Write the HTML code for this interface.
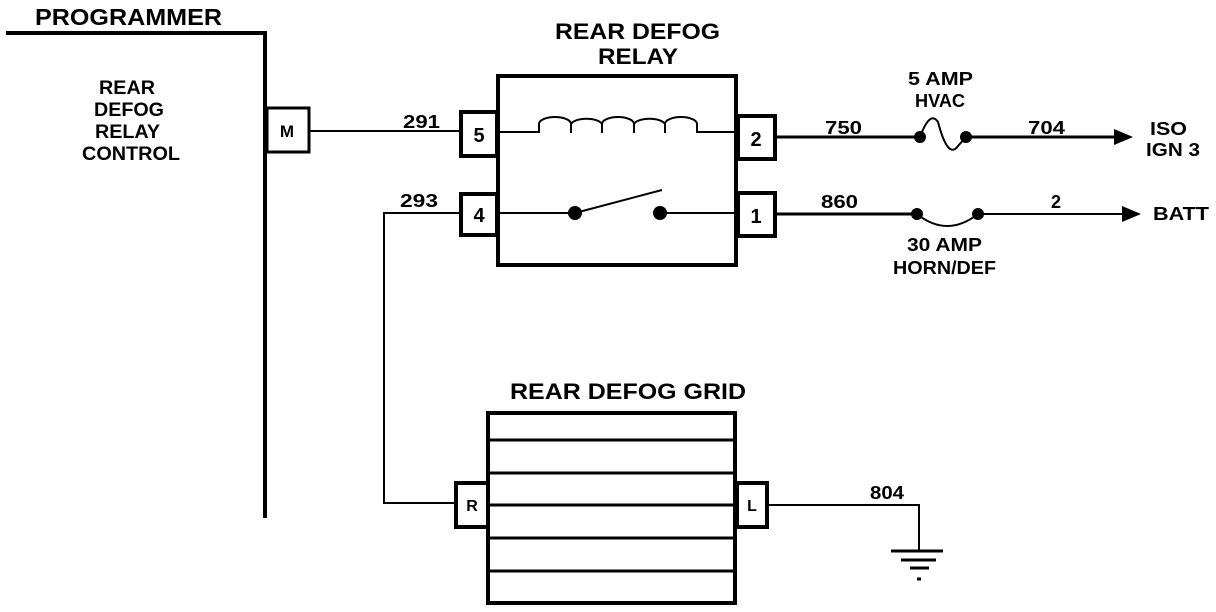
<!DOCTYPE html>
<html><head><meta charset="utf-8"><style>
html,body{margin:0;padding:0;background:#fff;}
svg{display:block}
text{font-family:"Liberation Sans",sans-serif;font-weight:bold;fill:#000}
</style></head><body>
<svg width="1216" height="612" viewBox="0 0 1216 612" xmlns="http://www.w3.org/2000/svg">
<g stroke="#000" fill="none">
<path d="M6 33 H265 V518" stroke-width="4"/>
<rect x="267" y="108" width="42" height="44" stroke-width="3" fill="#fff"/>
<line x1="309" y1="131" x2="461" y2="131" stroke-width="2"/>
<rect x="498" y="76" width="238" height="189" stroke-width="4"/>
<rect x="461" y="112" width="36" height="44" stroke-width="4" fill="#fff"/>
<rect x="461" y="194" width="36" height="41" stroke-width="4" fill="#fff"/>
<rect x="738" y="116" width="37" height="43" stroke-width="4" fill="#fff"/>
<rect x="738" y="193" width="37" height="43" stroke-width="4" fill="#fff"/>
<path d="M500 132 H539 V124 A16 7 0 0 1 571 124 V133 M571 124 A16 7 0 0 1 602 124 V133 M602 124 A16 7 0 0 1 634 124 V133 M634 124 A16 7 0 0 1 665 124 V133 M665 124 A16 7 0 0 1 697 124 V132 H736" stroke-width="2"/>
<line x1="500" y1="213" x2="575" y2="213" stroke-width="2"/>
<line x1="575" y1="213" x2="662" y2="190" stroke-width="2"/>
<line x1="660" y1="213" x2="736" y2="213" stroke-width="2"/>
<line x1="777" y1="137" x2="920" y2="137" stroke-width="3"/>
<path d="M920 137 Q930 110 938 122 Q948 160 958 146 L966 137" stroke-width="2"/>
<line x1="966" y1="137" x2="1118" y2="137" stroke-width="3"/>
<line x1="777" y1="214" x2="917" y2="214" stroke-width="3"/>
<path d="M917 214 Q947 238 978 214" stroke-width="2"/>
<line x1="978" y1="214" x2="1126" y2="214" stroke-width="2"/>
<path d="M461 213 H384 V503 H456" stroke-width="2"/>
<rect x="488" y="413" width="247" height="190" stroke-width="4"/>
<g stroke-width="3">
<line x1="488" y1="440" x2="735" y2="440"/>
<line x1="488" y1="473" x2="735" y2="473"/>
<line x1="488" y1="505" x2="735" y2="505"/>
<line x1="488" y1="538" x2="735" y2="538"/>
<line x1="488" y1="571" x2="735" y2="571"/>
</g>
<rect x="456" y="483" width="32" height="44" stroke-width="4" fill="#fff"/>
<rect x="737" y="483" width="30" height="44" stroke-width="4" fill="#fff"/>
<path d="M767 505 H919 V550" stroke-width="2"/>
<line x1="891" y1="551" x2="943" y2="551" stroke-width="3"/>
<line x1="901" y1="560" x2="936" y2="560" stroke-width="3"/>
<line x1="910" y1="568" x2="929" y2="568" stroke-width="3"/>
<line x1="917" y1="579" x2="921" y2="579" stroke-width="3"/>
</g>
<g fill="#000">
<circle cx="575" cy="213" r="7"/><circle cx="660" cy="213" r="7"/>
<circle cx="920" cy="137" r="6"/><circle cx="966" cy="137" r="6"/>
<circle cx="917" cy="214" r="6"/><circle cx="978" cy="214" r="6"/>
<polygon points="1114,129 1133,137 1114,145"/>
<polygon points="1122,206 1141,214 1122,222"/>
</g>
<text x="35" y="25" font-size="23" textLength="187" lengthAdjust="spacingAndGlyphs">PROGRAMMER</text>
<g font-size="19">
<text x="99" y="94" textLength="56" lengthAdjust="spacingAndGlyphs">REAR</text>
<text x="94" y="116" textLength="70" lengthAdjust="spacingAndGlyphs">DEFOG</text>
<text x="95" y="138" textLength="65" lengthAdjust="spacingAndGlyphs">RELAY</text>
<text x="82" y="160" textLength="98" lengthAdjust="spacingAndGlyphs">CONTROL</text>
</g>
<text x="287" y="137" font-size="17" text-anchor="middle">M</text>
<text x="479" y="142" font-size="20" text-anchor="middle">5</text>
<text x="479" y="222" font-size="20" text-anchor="middle">4</text>
<text x="756" y="146" font-size="20" text-anchor="middle">2</text>
<text x="756" y="223" font-size="20" text-anchor="middle">1</text>
<text x="472" y="511" font-size="16" text-anchor="middle">R</text>
<text x="752" y="511" font-size="16" text-anchor="middle">L</text>
<text x="555" y="39" font-size="22" textLength="165" lengthAdjust="spacingAndGlyphs">REAR DEFOG</text>
<text x="598" y="64" font-size="22" textLength="80" lengthAdjust="spacingAndGlyphs">RELAY</text>
<text x="510" y="399" font-size="22" textLength="236" lengthAdjust="spacingAndGlyphs">REAR DEFOG GRID</text>
<g font-size="18">
<text x="403" y="128" textLength="37" lengthAdjust="spacingAndGlyphs">291</text>
<text x="400" y="207" textLength="38" lengthAdjust="spacingAndGlyphs">293</text>
<text x="825" y="134" textLength="37" lengthAdjust="spacingAndGlyphs">750</text>
<text x="1028" y="134" textLength="37" lengthAdjust="spacingAndGlyphs">704</text>
<text x="821" y="208" textLength="37" lengthAdjust="spacingAndGlyphs">860</text>
<text x="1051" y="208">2</text>
<text x="870" y="499" textLength="34" lengthAdjust="spacingAndGlyphs">804</text>
<text x="908" y="85" textLength="65" lengthAdjust="spacingAndGlyphs">5 AMP</text>
<text x="915" y="107" textLength="50" lengthAdjust="spacingAndGlyphs">HVAC</text>
<text x="907" y="251" textLength="75" lengthAdjust="spacingAndGlyphs">30 AMP</text>
<text x="893" y="274" textLength="103" lengthAdjust="spacingAndGlyphs">HORN/DEF</text>
<text x="1150" y="135" textLength="37" lengthAdjust="spacingAndGlyphs">ISO</text>
<text x="1146" y="156" textLength="54" lengthAdjust="spacingAndGlyphs">IGN 3</text>
<text x="1153" y="220" textLength="56" lengthAdjust="spacingAndGlyphs">BATT</text>
</g>
</svg>
</body></html>
